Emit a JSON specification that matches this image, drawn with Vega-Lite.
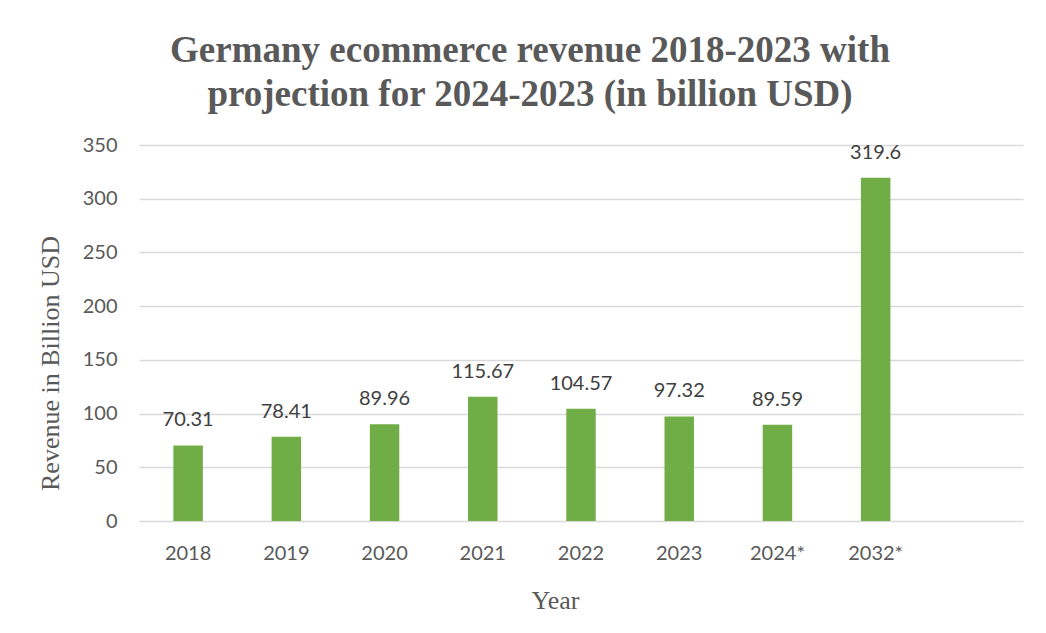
{
  "$schema": "https://vega.github.io/schema/vega-lite/v6.json",
  "autosize": {"type": "none"},
  "width": 884,
  "height": 376,
  "padding": {"left": 139, "top": 145, "right": 23, "bottom": 112},
  "background": "white",
  "title": {
    "text": ["Germany ecommerce revenue 2018-2023 with", "projection for 2024-2023 (in billion  USD)"],
    "font": "Liberation Serif",
    "fontSize": 37,
    "fontWeight": "bold",
    "color": "#595959",
    "anchor": "middle",
    "frame": "group",
    "dx": -51,
    "lineHeight": 44,
    "offset": 21
  },
  "data": {
    "values": [
      {"year": "2018", "revenue": 70.31},
      {"year": "2019", "revenue": 78.41},
      {"year": "2020", "revenue": 89.96},
      {"year": "2021", "revenue": 115.67},
      {"year": "2022", "revenue": 104.57},
      {"year": "2023", "revenue": 97.32},
      {"year": "2024*", "revenue": 89.59},
      {"year": "2032*", "revenue": 319.6}
    ]
  },
  "config": {
    "view": {"stroke": null},
    "axis": {
      "labelFont": "Lato",
      "labelFontSize": 20,
      "labelColor": "#595959",
      "titleFont": "Liberation Serif",
      "titleFontSize": 26,
      "titleFontWeight": "normal",
      "titleColor": "#595959"
    }
  },
  "encoding": {
    "x": {
      "field": "year",
      "type": "nominal",
      "sort": null,
      "scale": {"domain": ["2018", "2019", "2020", "2021", "2022", "2023", "2024*", "2032*", " "], "paddingInner": 0.7, "paddingOuter": 0.35},
      "axis": {
        "title": "Year",
        "labelAngle": 0,
        "ticks": false,
        "tickSize": 0,
        "domain": false,
        "labelPadding": 22,
        "titleX": 416,
        "titleY": 79,
        "titleAlign": "center",
        "titleBaseline": "middle"
      }
    },
    "y": {
      "field": "revenue",
      "type": "quantitative",
      "scale": {"domain": [0, 350]},
      "axis": {
        "title": "Revenue in Billion USD",
        "values": [0, 50, 100, 150, 200, 250, 300, 350],
        "ticks": false,
        "tickSize": 0,
        "domain": false,
        "labelPadding": 22,
        "gridColor": "#d9d9d9",
        "gridWidth": 1.5,
        "titleX": -89,
        "titleY": 218,
        "titleAngle": 270,
        "titleAlign": "center",
        "titleBaseline": "middle"
      }
    }
  },
  "layer": [
    {"mark": {"type": "bar", "color": "#70ad47"}},
    {
      "mark": {"type": "text", "font": "Lato", "fontSize": 20, "color": "#404040", "baseline": "middle", "dy": -25},
      "encoding": {"text": {"field": "revenue", "type": "nominal"}}
    }
  ]
}
